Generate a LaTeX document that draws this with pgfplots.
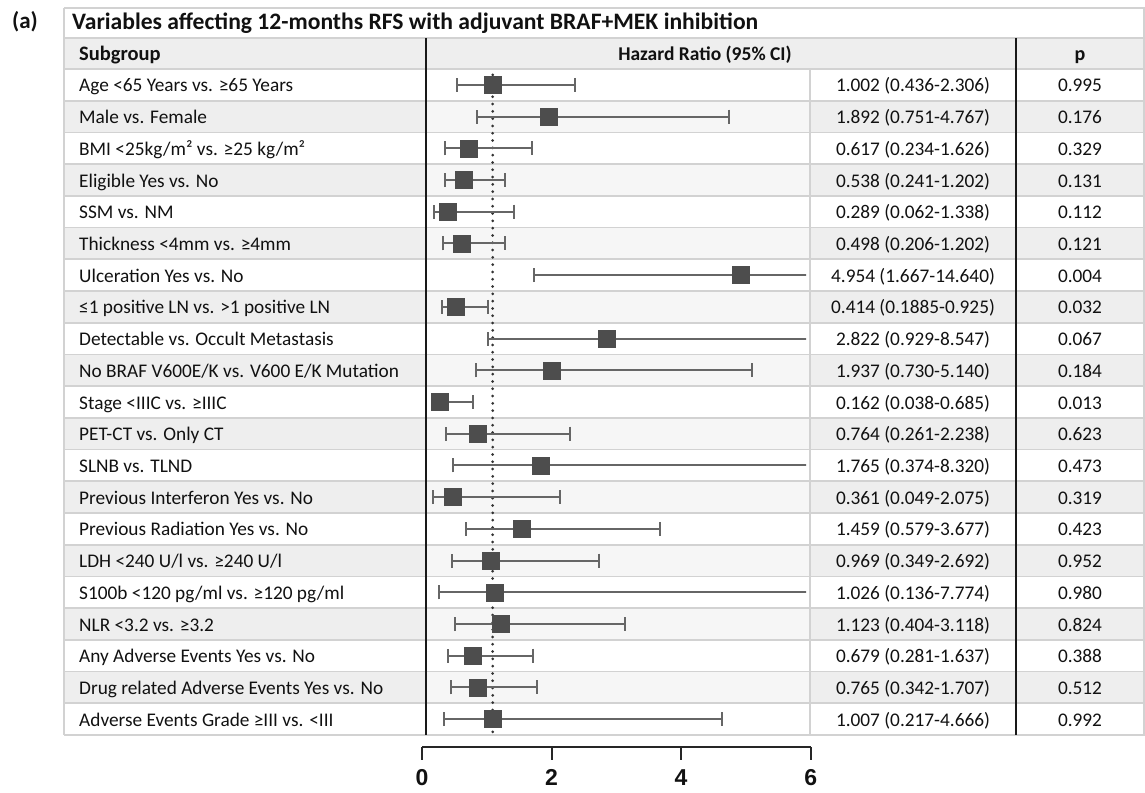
\documentclass[border=0pt]{standalone}
\usepackage{pgfplots}
\pgfplotsset{compat=1.18}
\usepackage{pgfplotstable}
\usepackage{fontspec}
\setmainfont{Carlito}
\newfontfamily\axisfont{Liberation Sans}

\definecolor{rowgray}{HTML}{EEEEEE}
\definecolor{plotgray}{HTML}{F6F6F6}
\definecolor{linegray}{HTML}{D2D2D2}
\definecolor{boxgray}{HTML}{4D4D4D}
\definecolor{whisk}{HTML}{666666}
\definecolor{txt}{HTML}{111111}

\pgfplotstableread{
y hr lo hi
21 1.002 0.436 2.306
20 1.892 0.751 4.767
19 0.617 0.234 1.626
18 0.538 0.241 1.202
17 0.289 0.062 1.338
16 0.498 0.206 1.202
15 4.954 1.667 14.640
14 0.414 0.1885 0.925
13 2.822 0.929 8.547
12 1.937 0.730 5.140
11 0.162 0.038 0.685
10 0.764 0.261 2.238
9 1.765 0.374 8.320
8 0.361 0.049 2.075
7 1.459 0.579 3.677
6 0.969 0.349 2.692
5 1.026 0.136 7.774
4 1.123 0.404 3.118
3 0.679 0.281 1.637
2 0.765 0.342 1.707
1 1.007 0.217 4.666
}\data

\newcommand{\rowtext}[4]{%
  \pgfmathsetmacro\yb{69+(#1-0.5)*31.714+7}
  \node[anchor=base west, inner sep=0pt, text=txt] at (79,\yb) {#2};
  \node[anchor=base, inner sep=0pt, text=txt] at (913,\yb) {#3};
  \node[anchor=base, inner sep=0pt, text=txt] at (1080,\yb) {#4};
}

\begin{document}
\begin{tikzpicture}[x=1pt,y=-1pt,font=\fontsize{19.3}{22}\selectfont]
\path[use as bounding box] (0,0) rectangle (1145,792);
% header background
\fill[rowgray] (64,38) rectangle (1145,69);
% alternating rows
\foreach \i in {2,4,...,20} {
  \pgfmathsetmacro\yt{69+(\i-1)*31.714}
  \pgfmathsetmacro\ybt{69+\i*31.714}
  \fill[rowgray] (64,\yt) rectangle (426,\ybt);
  \fill[plotgray] (426,\yt) rectangle (810,\ybt);
  \fill[rowgray] (810,\yt) rectangle (1145,\ybt);
}
% horizontal lines
\foreach \yy in {8,38,69} {\draw[linegray, line width=1.8pt] (64,\yy) -- (1145,\yy);}
\foreach \k in {1,...,21} {
  \pgfmathsetmacro\yl{69+\k*31.714}
  \draw[linegray, line width=1.8pt] (64,\yl) -- (1145,\yl);
}
% vertical lines
\draw[linegray, line width=1.8pt] (64,8) -- (64,735);
\draw[linegray, line width=1.8pt] (1144,8) -- (1144,735);
\draw[linegray, line width=1.8pt] (810,69) -- (810,735);
\draw[black!90, line width=2pt] (426,38) -- (426,735);
\draw[black!90, line width=2pt] (1016,38) -- (1016,735);

% main forest axis
\begin{axis}[at={(430pt,-735pt)}, anchor=south west, scale only axis,
  width=376pt, height=666pt, xmin=0, xmax=6, ymin=0.5, ymax=21.5,
  hide axis, clip=true]
\addplot[line width=3pt, color=black!80, dash pattern=on 0pt off 7.3pt, line cap=round]
  coordinates {(1,0.6) (1,21.45)};
\addplot[whisk, only marks, mark=none,
  error bars/.cd, x dir=both, x explicit,
  error bar style={draw=whisk, line width=2pt},
  error mark options={draw=whisk, line width=2pt, mark size=7pt, rotate=90}]
  table[x=hr, y=y, x error plus expr=\thisrow{hi}-\thisrow{hr},
        x error minus expr=\thisrow{hr}-\thisrow{lo}] {\data};
\addplot[only marks, mark=square*, mark size=8.5pt,
  mark options={fill=boxgray, draw=boxgray}] table[x=hr, y=y] {\data};
\end{axis}

% bottom scale
\begin{axis}[at={(422pt,-746.7pt)}, anchor=south west, scale only axis,
  width=388.7pt, height=20pt, xmin=0, xmax=6, ymin=0, ymax=1,
  axis x line*=bottom, axis y line=none, ytick=\empty,
  xtick={0,2,4,6}, tick align=outside, major tick length=13pt,
  x axis line style={line width=2pt, black!85},
  every tick/.style={line width=2pt, black!85},
  /pgf/number format/assume math mode=true,
  xticklabel style={font=\axisfont\bfseries\fontsize{23}{26}\selectfont, text=txt, yshift=-6pt}]
\addplot[draw=none] coordinates {(0,0)};
\end{axis}

% texts
\node[anchor=base west, inner sep=0pt, font=\bfseries\fontsize{23}{26}\selectfont, text=txt] at (12,29) {(a)};
\node[anchor=base west, inner sep=0pt, font=\bfseries\fontsize{23.6}{26}\selectfont, text=txt] at (72,29.5) {Variables affecting 12-months RFS with adjuvant BRAF+MEK inhibition};
\node[anchor=base west, inner sep=0pt, font=\bfseries\fontsize{20.5}{22}\selectfont, text=txt] at (79,60.5) {Subgroup};
\node[anchor=base, inner sep=0pt, font=\bfseries\fontsize{19.5}{22}\selectfont, text=txt] at (705,60.5) {Hazard Ratio (95\% CI)};
\node[anchor=base, inner sep=0pt, font=\bfseries\fontsize{20}{22}\selectfont, text=txt] at (1080,60.5) {p};

\rowtext{1}{Age <65 Years vs. ≥65 Years}{1.002 (0.436-2.306)}{0.995}
\rowtext{2}{Male vs. Female}{1.892 (0.751-4.767)}{0.176}
\rowtext{3}{BMI <25kg/m² vs. ≥25 kg/m²}{0.617 (0.234-1.626)}{0.329}
\rowtext{4}{Eligible Yes vs. No}{0.538 (0.241-1.202)}{0.131}
\rowtext{5}{SSM vs. NM}{0.289 (0.062-1.338)}{0.112}
\rowtext{6}{Thickness <4mm vs. ≥4mm}{0.498 (0.206-1.202)}{0.121}
\rowtext{7}{Ulceration Yes vs. No}{4.954 (1.667-14.640)}{0.004}
\rowtext{8}{≤1 positive LN vs. >1 positive LN}{0.414 (0.1885-0.925)}{0.032}
\rowtext{9}{Detectable vs. Occult Metastasis}{2.822 (0.929-8.547)}{0.067}
\rowtext{10}{No BRAF V600E/K vs. V600 E/K Mutation}{1.937 (0.730-5.140)}{0.184}
\rowtext{11}{Stage <IIIC vs. ≥IIIC}{0.162 (0.038-0.685)}{0.013}
\rowtext{12}{PET-CT vs. Only CT}{0.764 (0.261-2.238)}{0.623}
\rowtext{13}{SLNB vs. TLND}{1.765 (0.374-8.320)}{0.473}
\rowtext{14}{Previous Interferon Yes vs. No}{0.361 (0.049-2.075)}{0.319}
\rowtext{15}{Previous Radiation Yes vs. No}{1.459 (0.579-3.677)}{0.423}
\rowtext{16}{LDH <240 U/l vs. ≥240 U/l}{0.969 (0.349-2.692)}{0.952}
\rowtext{17}{S100b <120 pg/ml vs. ≥120 pg/ml}{1.026 (0.136-7.774)}{0.980}
\rowtext{18}{NLR <3.2 vs. ≥3.2}{1.123 (0.404-3.118)}{0.824}
\rowtext{19}{Any Adverse Events Yes vs. No}{0.679 (0.281-1.637)}{0.388}
\rowtext{20}{Drug related Adverse Events Yes vs. No}{0.765 (0.342-1.707)}{0.512}
\rowtext{21}{Adverse Events Grade ≥III vs. <III}{1.007 (0.217-4.666)}{0.992}
\end{tikzpicture}
\end{document}
